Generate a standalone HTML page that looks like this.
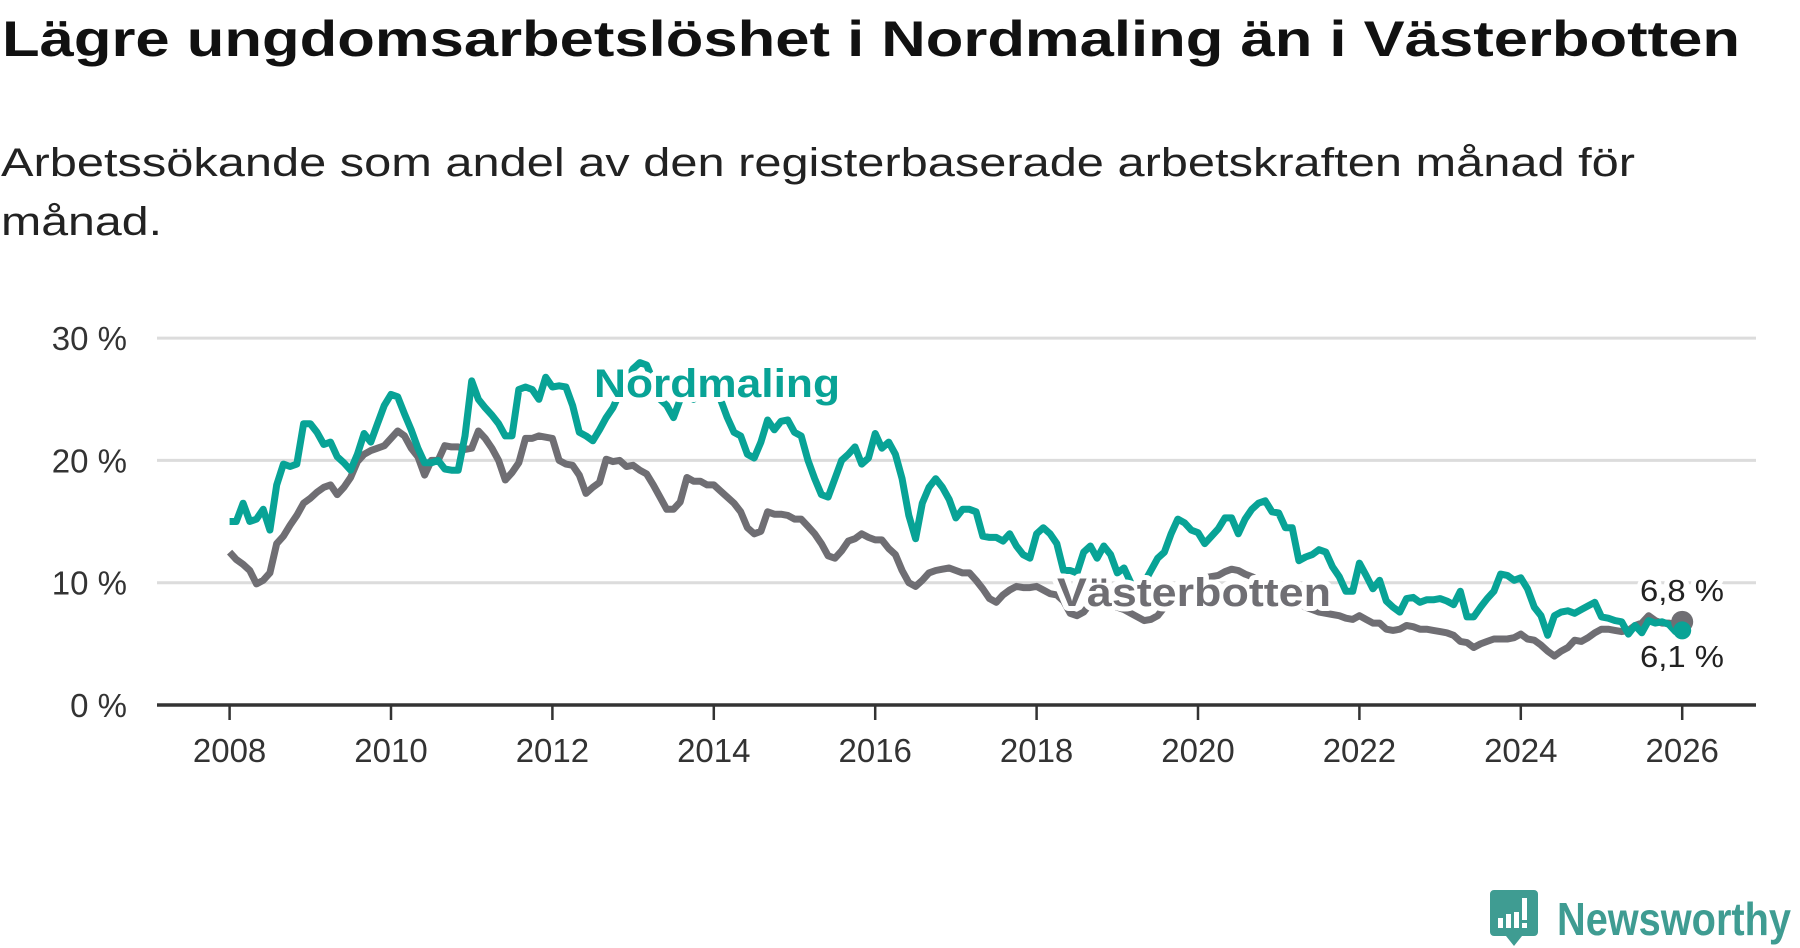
<!DOCTYPE html>
<html><head><meta charset="utf-8">
<style>
html,body{margin:0;padding:0;background:#fff;}
body{width:1800px;height:948px;overflow:hidden;position:relative;font-family:"Liberation Sans",sans-serif;}
svg{position:absolute;left:0;top:0;}
</style></head>
<body>
<svg id="chart" width="1800" height="948" viewBox="0 0 1800 948">
  <text x="2" y="56" font-size="50" font-weight="bold" fill="#111" textLength="1738" lengthAdjust="spacingAndGlyphs">Lägre ungdomsarbetslöshet i Nordmaling än i Västerbotten</text>
  <text x="1" y="176" font-size="40" fill="#222" textLength="1634" lengthAdjust="spacingAndGlyphs">Arbetssökande som andel av den registerbaserade arbetskraften månad för</text>
  <text x="1" y="235" font-size="40" fill="#222" textLength="161" lengthAdjust="spacingAndGlyphs">månad.</text>
  <g id="grid"></g>
  <g id="series"></g>
  <g id="labels"></g>
  <g>
    <path d="M1494 890 H1534 a4 4 0 0 1 4 4 V932 a4 4 0 0 1 -4 4 H1522 L1514 946 L1506 936 H1494 a4 4 0 0 1 -4 -4 V894 a4 4 0 0 1 4 -4Z" fill="#3f9c92"/>
    <rect x="1498" y="918" width="5" height="10" fill="#fff"/>
    <rect x="1506" y="914" width="5" height="14" fill="#fff"/>
    <rect x="1514" y="912" width="5" height="16" fill="#fff"/>
    <rect x="1522" y="898" width="5" height="22" fill="#fff"/>
    <rect x="1522" y="923" width="5" height="5" fill="#fff"/>
    <text x="1557" y="935" font-size="46" font-weight="bold" fill="#3f9c92" textLength="234" lengthAdjust="spacingAndGlyphs">Newsworthy</text>
  </g>
</svg>
<script>
const yTicks = [0, 10, 20, 30];
const yTickLabels = ["0 %", "10 %", "20 %", "30 %"];
const xTicks = [2008, 2010, 2012, 2014, 2016, 2018, 2020, 2022, 2024, 2026];
const startYear = 2008;
const nordmaling = [
15,15,16.5,15,15.2,16,14.3,18,19.7,19.5,19.7,23,
23,22.3,21.3,21.5,20.3,19.8,19.2,20.5,22.2,21.5,23,24.5,
25.4,25.2,23.8,22.5,21,19.8,19.8,20,19.3,19.2,19.2,22,
26.5,25,24.3,23.7,23,22,22,25.8,26,25.8,25,26.8,
26,26.1,26,24.5,22.3,22,21.6,22.5,23.5,24.3,25.5,26.5,
27.5,28,27.8,26.5,25,24.5,23.5,25,25.3,25,25.5,26,
25.5,25,23.5,22.3,22,20.5,20.2,21.5,23.3,22.5,23.2,23.3,
22.3,22,20,18.5,17.2,17,18.5,20,20.5,21.1,19.7,20.2,
22.2,21,21.5,20.5,18.5,15.5,13.6,16.5,17.8,18.5,17.8,16.8,
15.3,16,16,15.8,13.8,13.7,13.7,13.4,14,13,12.3,12,
14,14.5,14,13.2,11,11,10.8,12.5,13,12,13,12.3,
10.8,11.2,10,9.5,10,11,12,12.5,14,15.2,14.9,14.3,
14.1,13.2,13.8,14.4,15.3,15.3,14,15.2,16,16.5,16.7,15.8,
15.7,14.5,14.5,11.8,12.1,12.3,12.7,12.5,11.3,10.5,9.3,9.3,
11.6,10.6,9.5,10.2,8.5,8,7.6,8.7,8.8,8.4,8.6,8.6,
8.7,8.5,8.2,9.3,7.2,7.2,8,8.7,9.3,10.7,10.6,10.2,
10.4,9.5,8,7.3,5.7,7.3,7.6,7.7,7.5,7.8,8.1,8.4,
7.2,7.1,6.9,6.8,5.8,6.5,5.9,6.9,6.7,6.8,6.6,6.0,
6.1];
const vasterbotten = [
12.5,11.9,11.5,11,9.9,10.2,10.8,13.2,13.8,14.7,15.5,16.5,
16.9,17.4,17.8,18,17.2,17.8,18.6,19.9,20.5,20.8,21,21.2,
21.8,22.4,22,21,20.3,18.8,20,20,21.2,21.1,21.1,20.9,
21,22.4,21.8,21,20,18.4,19,19.8,21.8,21.8,22,21.9,
21.8,20,19.7,19.6,18.8,17.3,17.8,18.2,20.1,19.9,20,19.5,
19.6,19.2,18.9,18,17,16,16,16.6,18.6,18.3,18.3,18,
18,17.5,17,16.5,15.8,14.5,14,14.2,15.8,15.6,15.6,15.5,
15.2,15.2,14.6,14,13.2,12.2,12,12.6,13.4,13.6,14,13.7,
13.5,13.5,12.8,12.3,11,10,9.7,10.2,10.8,11,11.1,11.2,
11,10.8,10.8,10.2,9.5,8.7,8.4,9,9.4,9.7,9.6,9.6,
9.7,9.4,9.1,9,8.5,7.5,7.3,7.6,8.3,8.8,8.8,8.2,
8,7.8,7.5,7.2,6.9,7,7.3,8,8.6,9.2,9.6,9.9,
10.2,10.4,10.5,10.6,10.9,11.1,11,10.7,10.5,10.2,9.8,9.4,
9.1,8.9,8.6,8.3,8,7.8,7.6,7.5,7.4,7.3,7.1,7,
7.3,7,6.7,6.7,6.2,6.1,6.2,6.5,6.4,6.2,6.2,6.1,
6,5.9,5.7,5.2,5.1,4.7,5,5.2,5.4,5.4,5.4,5.5,
5.8,5.4,5.3,4.9,4.4,4,4.4,4.7,5.3,5.2,5.5,5.9,
6.2,6.2,6.1,6,6.1,6.5,6.7,7.3,6.9,6.7,6.7,6.6,
6.8];

const NS = "http://www.w3.org/2000/svg";
const X0 = 157, X1 = 1756, Y0 = 705, PER10 = 122.3;
const xYear = y => 229.6 + (y - 2008) * 80.7;
const yVal = v => Y0 - v / 10 * PER10;
function mk(tag, attrs, parent){const e=document.createElementNS(NS,tag);for(const k in attrs)e.setAttribute(k,attrs[k]);parent.appendChild(e);return e;}
const grid = document.getElementById('grid');
yTicks.forEach((t,i)=>{
  if(t>0){
    const l = mk('line',{x1:X0,x2:X1,y1:yVal(t),y2:yVal(t),stroke:'#dcdcdc','stroke-width':3},grid);
    
    
  }
  const tx = mk('text',{x:127,y:yVal(t)+12,'text-anchor':'end','font-size':33,fill:'#333'},grid);
  tx.textContent = yTickLabels[i];
  
  
});
const ax = mk('line',{x1:X0,x2:X1,y1:Y0,y2:Y0,stroke:'#333','stroke-width':3.5},grid);


xTicks.forEach(t=>{
  const tk = mk('line',{x1:xYear(t),x2:xYear(t),y1:Y0,y2:Y0+15,stroke:'#333','stroke-width':2.5},grid);
  
  
  const tx = mk('text',{x:xYear(t),y:762,'text-anchor':'middle','font-size':33,fill:'#333'},grid);
  tx.textContent = t;
  
  
});
const series = document.getElementById('series');
function pts(arr){return arr.map((v,i)=>xYear(startYear+i/12).toFixed(1)+','+yVal(v).toFixed(1)).join(' ');}
const gl = mk('polyline',{points:pts(vasterbotten),fill:'none',stroke:'#6f6e73','stroke-width':7,'stroke-linejoin':'round'},series);


const tl = mk('polyline',{points:pts(nordmaling),fill:'none',stroke:'#08a396','stroke-width':7,'stroke-linejoin':'round'},series);


const lastI = nordmaling.length-1;
const gd = mk('circle',{cx:xYear(startYear+(vasterbotten.length-1)/12),cy:yVal(vasterbotten[vasterbotten.length-1]),r:11,fill:'#6f6e73'},series);


const td = mk('circle',{cx:xYear(startYear+lastI/12),cy:yVal(nordmaling[lastI]),r:9,fill:'#08a396'},series);


const labels = document.getElementById('labels');
function lab(txt,x,y,size,fill,bold,name,halo,len){
  const extra = len ? {textLength:len,lengthAdjust:'spacingAndGlyphs'} : {};
  if(halo){const h=mk('text',Object.assign({x:x,y:y,'font-size':size,'font-weight':bold?'bold':'normal',fill:'#fff',stroke:'#fff','stroke-width':10,'stroke-linejoin':'round'},extra),labels);h.textContent=txt;}
  const t=mk('text',Object.assign({x:x,y:y,'font-size':size,'font-weight':bold?'bold':'normal',fill:fill},extra),labels);
  t.textContent=txt;
  
  
}
lab('Nordmaling',594,397,40,'#08a396',true,'nordmaling-label',true,246);
lab('Västerbotten',1057,606,40,'#6f6e73',true,'vasterbotten-label',true,274);
lab(String(vasterbotten[vasterbotten.length-1]).replace('.',',')+' %',1640,601,31,'#222',false,'vasterbotten-end-value',true,84);
lab(String(nordmaling[lastI]).replace('.',',')+' %',1640,667,31,'#222',false,'nordmaling-end-value',true,84);
</script>
</body></html>
